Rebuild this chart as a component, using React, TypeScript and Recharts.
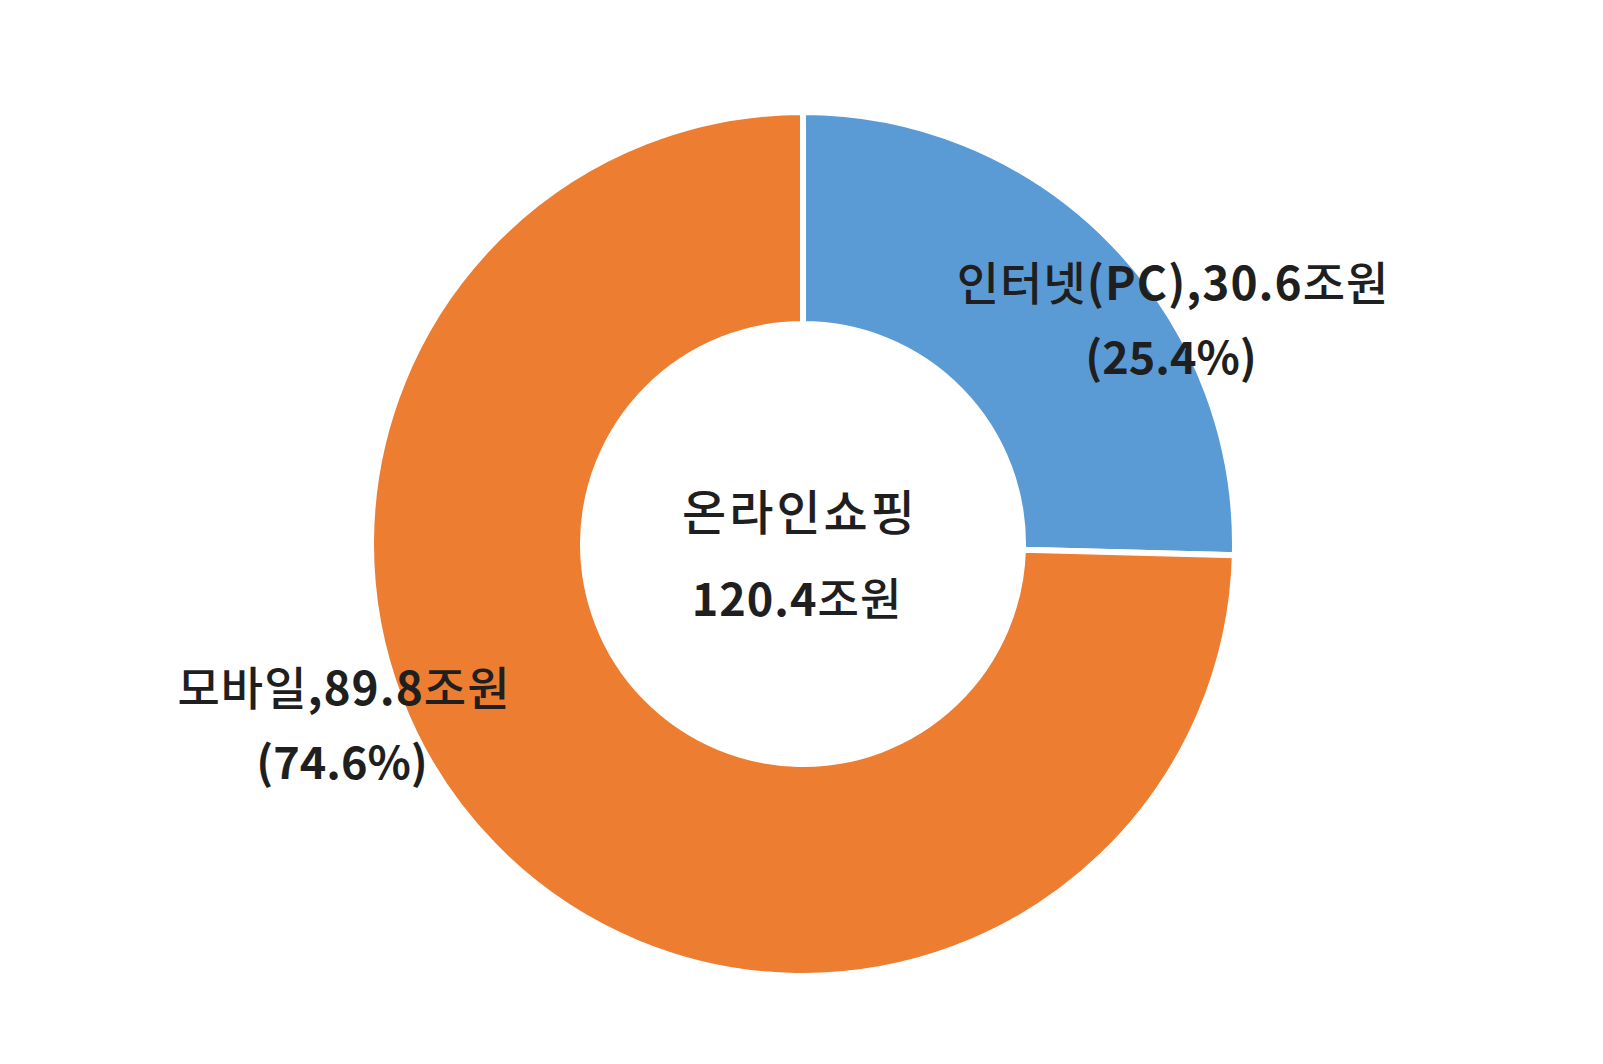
import { Cell, Pie, PieChart } from 'recharts';

const channels = ['인터넷(PC)', '모바일'];
const amounts = [30.6, 89.8];
const colors = ['#5B9BD5', '#ED7D31'];
const centerTitle = '온라인쇼핑';
const unit = '조원';

// label anchor offsets from the pie centre (x, y of the first line)
const labelOffsets = [
  [370, -264],
  [-459, 141],
];

const total = amounts.reduce((a, b) => a + b, 0);
const rows = channels.map((name, i) => ({ name, value: amounts[i] }));

const FONT = '"Noto Sans CJK KR", "Noto Sans", sans-serif';
const INK = '#1f1f1f';

function splitRuns(s: string) {
  // Hangul in regular weight, digits and latin in bold
  const runs: { t: string; hangul: boolean }[] = [];
  for (const ch of s) {
    const h = /[\uac00-\ud7a3]/.test(ch);
    const last = runs[runs.length - 1];
    if (last && last.hangul === h) last.t += ch;
    else runs.push({ t: ch, hangul: h });
  }
  return runs;
}

function Line({ x, y, text, size, spacing = 0 }: { x: number; y: number; text: string; size: number; spacing?: number }) {
  return (
    <text
      x={x}
      y={y}
      textAnchor="middle"
      dominantBaseline="central"
      fontFamily={FONT}
      fontSize={size}
      letterSpacing={spacing}
      fill={INK}
    >
      {splitRuns(text).map((r, k) => (
        <tspan key={k} fontWeight={r.hangul ? 500 : 700}>
          {r.t}
        </tspan>
      ))}
    </text>
  );
}

function renderSliceLabel(props: any) {
  const { cx, cy, index } = props;
  const [dx, dy] = labelOffsets[index];
  const v = amounts[index];
  const pct = ((v / total) * 100).toFixed(1);
  const x = cx + dx;
  const y = cy + dy;
  return (
    <g key={`lbl-${index}`}>
      <Line x={x} y={y} text={`${channels[index]},${v.toFixed(1)}${unit}`} size={46} spacing={1} />
      <Line x={x - 2} y={y + 74} text={`(${pct}%)`} size={45} />
      {index === 0 && (
        // total shown in the hole of the ring
        <g>
          <Line x={cx - 3} y={cy - 35} text={centerTitle} size={48} spacing={3} />
          <Line x={cx - 6} y={cy + 52} text={`${total.toFixed(1)}${unit}`} size={45} spacing={1} />
        </g>
      )}
    </g>
  );
}

export default function App() {
  return (
    <div style={{ position: 'absolute', left: 0, top: 0, width: 1603, height: 1064, background: '#fff' }}>
      <PieChart width={1603} height={1064} margin={{ top: 0, right: 0, bottom: 0, left: 0 }}>
        <Pie
          data={rows}
          dataKey="value"
          nameKey="name"
          cx={803}
          cy={544}
          innerRadius={220}
          outerRadius={432}
          startAngle={90}
          endAngle={-270}
          stroke="#ffffff"
          strokeWidth={6}
          label={renderSliceLabel}
          labelLine={false}
          isAnimationActive={false}
        >
          {rows.map((r, i) => (
            <Cell key={r.name} fill={colors[i]} />
          ))}
        </Pie>
      </PieChart>
    </div>
  );
}
